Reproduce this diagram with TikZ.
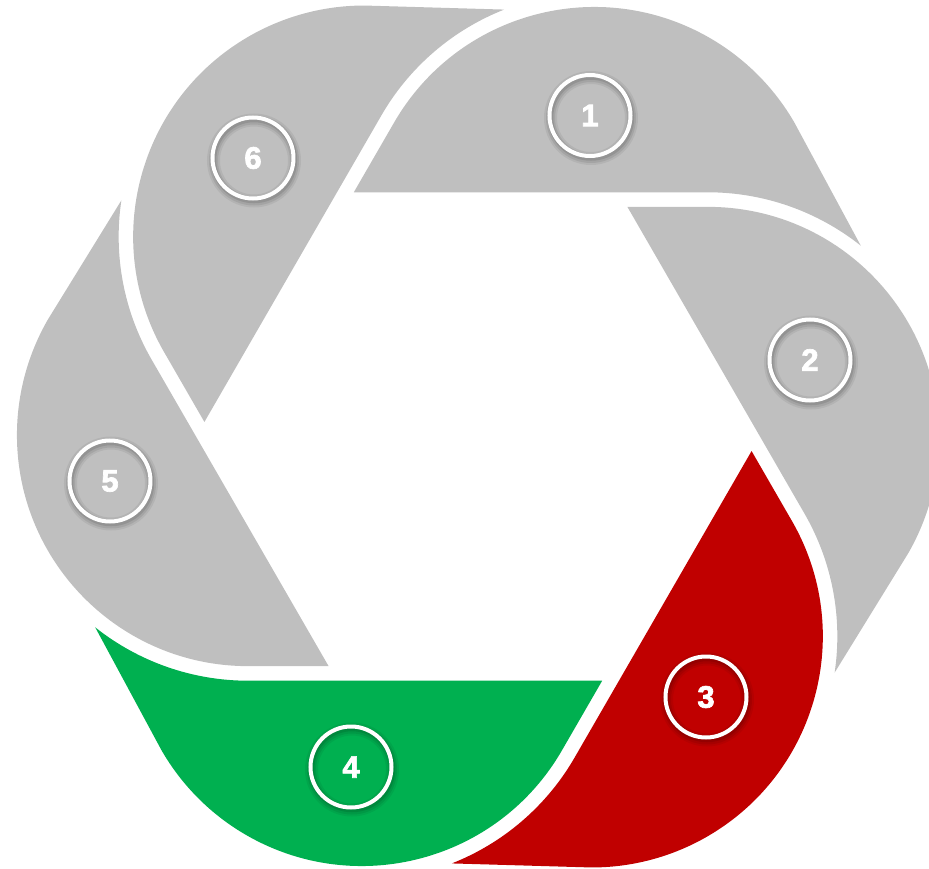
\documentclass[tikz,border=0pt]{standalone}
\usepackage{fontspec}
\setmainfont{Liberation Sans}[BoldFont={Liberation Sans Bold}, BoldFeatures={FakeBold=2.2}]
\definecolor{gris}{HTML}{BFBFBF}
\definecolor{rojo}{HTML}{C00000}
\definecolor{verde}{HTML}{00B050}
\tikzset{
  etiqueta/.style={circle, draw=white, line width=4pt, minimum size=81pt, inner sep=0pt,
    text=white, font=\fontsize{31}{31}\selectfont\bfseries},
  sombra/.style={black, draw opacity=#1}
}
\begin{document}
\begin{tikzpicture}[x=1pt,y=1pt]
    \useasboundingbox (-478,-431.5) rectangle (451,436.5);
    \clip (-478,-431.5) rectangle (451,436.5);

    % Dibujar los seis segmentos (el mismo contorno girado 60 grados)
    \fill[gris, rotate=0]    (-124.2,244.2) -- (-83.9,313.95) arc[start angle=150, end angle=30, radius=231.1pt] -- (382.8,190.8) arc[start angle=51.5, end angle=90, radius=245.6pt] -- cycle;
    \fill[gris, rotate=-60]  (-124.2,244.2) -- (-83.9,313.95) arc[start angle=150, end angle=30, radius=231.1pt] -- (382.8,190.8) arc[start angle=51.5, end angle=90, radius=245.6pt] -- cycle;
    \fill[rojo, rotate=-120] (-124.2,244.2) -- (-83.9,313.95) arc[start angle=150, end angle=30, radius=231.1pt] -- (382.8,190.8) arc[start angle=51.5, end angle=90, radius=245.6pt] -- cycle;
    \fill[verde, rotate=-180] (-124.2,244.2) -- (-83.9,313.95) arc[start angle=150, end angle=30, radius=231.1pt] -- (382.8,190.8) arc[start angle=51.5, end angle=90, radius=245.6pt] -- cycle;
    \fill[gris, rotate=-240] (-124.2,244.2) -- (-83.9,313.95) arc[start angle=150, end angle=30, radius=231.1pt] -- (382.8,190.8) arc[start angle=51.5, end angle=90, radius=245.6pt] -- cycle;
    \fill[gris, rotate=-300] (-124.2,244.2) -- (-83.9,313.95) arc[start angle=150, end angle=30, radius=231.1pt] -- (382.8,190.8) arc[start angle=51.5, end angle=90, radius=245.6pt] -- cycle;

    % Centros de las etiquetas
    \coordinate (c1) at (112,321);
    \coordinate (c2) at (332,76.5);
    \coordinate (c3) at (228,-260.5);
    \coordinate (c4) at (-127,-330.5);
    \coordinate (c5) at (-368,-44.5);
    \coordinate (c6) at (-225,278.5);

    % Sombras suaves de los aros
    \foreach \c in {c1,c2,c3,c4,c5,c6}{
        \draw[sombra=0.06, line width=13pt] ([shift={(1,-2.5)}]\c) circle (40.5pt);
        \draw[sombra=0.08, line width=9pt] ([shift={(1,-2.5)}]\c) circle (40.5pt);
        \draw[sombra=0.10, line width=5.5pt] ([shift={(1,-2)}]\c) circle (40.5pt);
    }

    % Marcar los pasos
    \node[etiqueta] (n1) at (c1) {1};
    \node[etiqueta] (n2) at (c2) {2};
    \node[etiqueta] (n3) at (c3) {3};
    \node[etiqueta] (n4) at (c4) {4};
    \node[etiqueta] (n5) at (c5) {5};
    \node[etiqueta] (n6) at (c6) {6};

\end{tikzpicture}
\end{document}
